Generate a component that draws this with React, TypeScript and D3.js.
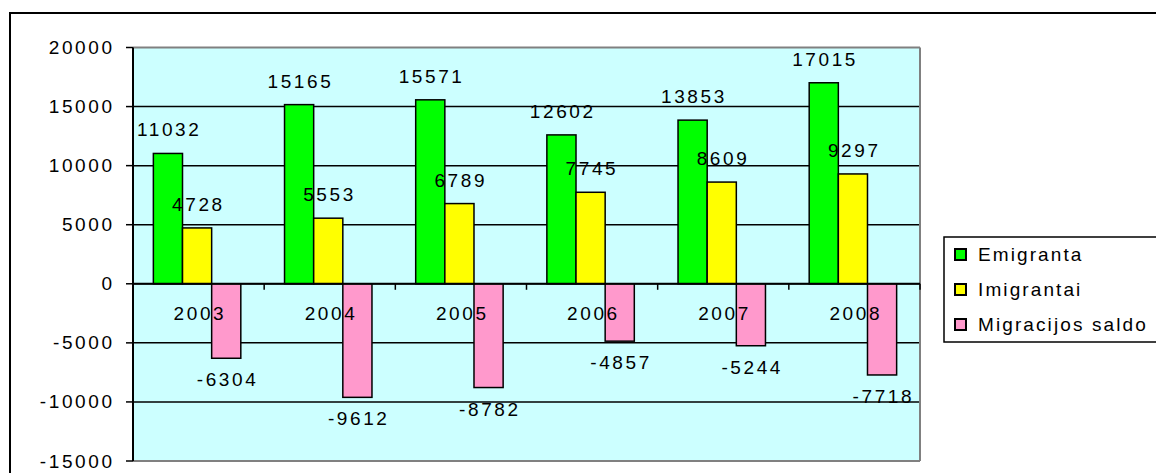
import React from "react";
import * as d3 from "d3";

const years = ["2003", "2004", "2005", "2006", "2007", "2008"];
const emigranta = [11032, 15165, 15571, 12602, 13853, 17015];
const imigrantai = [4728, 5553, 6789, 7745, 8609, 9297];
const saldo = [-6304, -9612, -8782, -4857, -5244, -7718];
const seriesNames = ["Emigranta", "Imigrantai", "Migracijos saldo"];
const seriesColors = ["#00ff00", "#ffff00", "#ff99cc"];
const yTicks = [20000, 15000, 10000, 5000, 0, -5000, -10000, -15000];

const W = 1156, H = 473;
const plot = { left: 133, right: 920, top: 47.5, bottom: 461 };
const font = "Liberation Sans, Arial, sans-serif";
const FS = 19;
const LS = 2.6;

export default function App() {
  const y = d3.scaleLinear().domain([-15000, 20000]).range([plot.bottom, plot.top]);
  const x = d3.scaleBand().domain(years).range([plot.left, plot.right]).paddingInner(0).paddingOuter(0);
  const bw = x.bandwidth();
  const barW = bw / 4.5;
  const inner = d3.scaleBand().domain(["0", "1", "2"]).range([0, barW * 3]);
  const series = [emigranta, imigrantai, saldo];
  const y0 = y(0);
  return (
    <svg width={W} height={H} style={{ position: "absolute", left: 0, top: 0, background: "#fff" }}>
      <rect x={10} y={13} width={1160} height={480} fill="#fff" stroke="#000" strokeWidth={2} />
      <rect x={plot.left} y={plot.top} width={plot.right - plot.left} height={plot.bottom - plot.top} fill="#ccffff" />
      {yTicks.map((t) => (
        <g key={t}>
          {t !== 20000 && t !== -15000 && (
            <line x1={plot.left} x2={plot.right} y1={y(t)} y2={y(t)} stroke="#000" strokeWidth={1.5} />
          )}
          <line x1={plot.left - 7} x2={plot.left} y1={y(t)} y2={y(t)} stroke="#000" strokeWidth={1.5} />
          <text x={112 + LS} y={y(t) + 6.5} textAnchor="end" fontFamily={font} fontSize={FS} letterSpacing={LS} fill="#000">
            {t}
          </text>
        </g>
      ))}
      <line x1={plot.left} x2={plot.right} y1={plot.top} y2={plot.top} stroke="#808080" strokeWidth={2} />
      <line x1={plot.left} x2={plot.right} y1={plot.bottom} y2={plot.bottom} stroke="#808080" strokeWidth={2} />
      <line x1={plot.right} x2={plot.right} y1={plot.top} y2={plot.bottom} stroke="#808080" strokeWidth={2} />
      {years.map((yr, i) => {
        const gx = (x(yr) as number) + (bw - barW * 3) / 2 - 1.5;
        return (
          <g key={yr}>
            {series.map((s, si) => {
              const v = s[i];
              const bx = gx + (inner(String(si)) as number);
              const top = Math.min(y(v), y0);
              const h = Math.abs(y(v) - y0);
              return (
                <rect key={si} x={bx} y={top} width={barW} height={h} fill={seriesColors[si]} stroke="#000" strokeWidth={1.5} />
              );
            })}
          </g>
        );
      })}
      <line x1={plot.left} x2={plot.right} y1={y0} y2={y0} stroke="#000" strokeWidth={2} />
      {years.map((yr, i) => (
        <line key={"t" + i} x1={(x(yr) as number) + bw} x2={(x(yr) as number) + bw} y1={y0} y2={y0 + 6} stroke="#000" strokeWidth={1.5} />
      ))}
      <line x1={plot.left} x2={plot.left} y1={plot.top} y2={plot.bottom} stroke="#000" strokeWidth={2} />
      {years.map((yr) => (
        <text key={"y" + yr} x={(x(yr) as number) + bw / 2 + LS / 2} y={320} textAnchor="middle" fontFamily={font} fontSize={FS} letterSpacing={LS} fill="#000">
          {yr}
        </text>
      ))}
      {years.map((yr, i) => {
        const gx = (x(yr) as number) + (bw - barW * 3) / 2 - 1.5;
        return series.map((s, si) => {
          const v = s[i];
          const cx = gx + (inner(String(si)) as number) + barW / 2 + LS / 2;
          const ty = v >= 0 ? y(v) - 17 : y(v) + 28;
          return (
            <text key={yr + si} x={cx} y={ty} textAnchor="middle" fontFamily={font} fontSize={FS} letterSpacing={LS} fill="#000">
              {v}
            </text>
          );
        });
      })}
      <rect x={944} y={237} width={220} height={105} fill="#fff" stroke="#000" strokeWidth={1.5} />
      {seriesNames.map((n, i) => (
        <g key={n}>
          <rect x={955} y={249 + i * 35} width={11} height={11} fill={seriesColors[i]} stroke="#000" strokeWidth={2} />
          <text x={978} y={260.5 + i * 35} fontFamily={font} fontSize={FS} letterSpacing={2.1} fill="#000">
            {n}
          </text>
        </g>
      ))}
    </svg>
  );
}
